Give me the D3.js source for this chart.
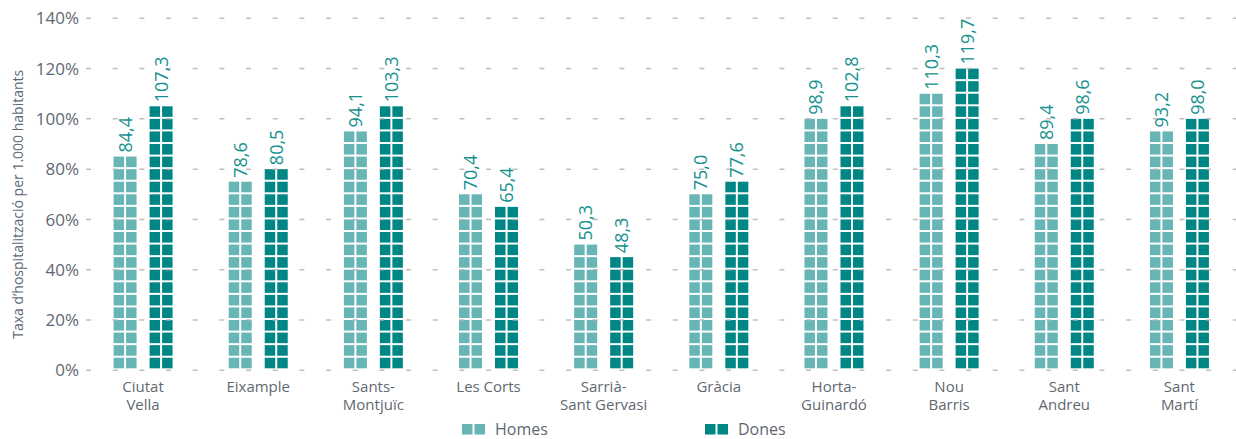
<!DOCTYPE html>
<html>
<head>
<meta charset="utf-8">
<script src="https://cdn.jsdelivr.net/npm/d3@7"></script>
<style>
  body { margin: 0; background: #fff; }
  svg text { font-family: "Open Sans", "Segoe UI", sans-serif; }
</style>
</head>
<body>
<div id="chart"></div>
<script>
// districts (label lines)
const districts = [
  ["Ciutat", "Vella"], ["Eixample"], ["Sants-", "Montjuïc"], ["Les Corts"],
  ["Sarrià-", "Sant Gervasi"], ["Gràcia"], ["Horta-", "Guinardó"],
  ["Nou", "Barris"], ["Sant", "Andreu"], ["Sant", "Martí"]
]
// labelled values
const homes = [84.4, 78.6, 94.1, 70.4, 50.3, 75.0, 98.9, 110.3, 89.4, 93.2]
const dones = [107.3, 80.5, 103.3, 65.4, 48.3, 77.6, 102.8, 119.7, 98.6, 98.0]
// height shown by the block stacks (each block = 5%)
const homesShown = [85, 75, 95, 70, 50, 70, 100, 110, 90, 95]
const donesShown = [105, 80, 105, 65, 45, 75, 105, 120, 100, 100]
const yTicks = [0, 20, 40, 60, 80, 100, 120, 140]
const seriesNames = ["Homes", "Dones"]

const W = 1236, H = 439
const colors = {Homes: "#67b6b5", Dones: "#008685"}
const textGrey = "#5f6872"
const labelColor = "#15918f"

const svg = d3.select("#chart").append("svg")
  .attr("width", W).attr("height", H)

const x = d3.scaleBand()
  .domain(d3.range(districts.length))
  .range([85.5, 1237])

const y = d3.scaleLinear()
  .domain([0, 140])
  .range([370.3, 18.3])

const barW = 23, offset = 18, step = 5

// y axis labels
svg.append("g").selectAll("text")
  .data(yTicks)
  .enter().append("text")
  .attr("x", 79)
  .attr("y", d => y(d))
  .attr("dy", "0.36em")
  .attr("text-anchor", "end")
  .attr("font-size", 17)
  .attr("fill", textGrey)
  .text(d => d + "%")

svg.append("text")
  .attr("transform", `translate(23,${(y(0) + y(140)) / 2 + 10}) rotate(-90)`)
  .attr("text-anchor", "middle")
  .attr("font-size", 14)
  .attr("fill", textGrey)
  .text("Taxa d’hospitalització per 1.000 habitants")

// block stacks
const series = [
  {name: "Homes", shown: homesShown, vals: homes, dx: -offset},
  {name: "Dones", shown: donesShown, vals: dones, dx: offset}
]

const bars = svg.append("g")
series.forEach(s => {
  s.shown.forEach((v, i) => {
    const cx = x(i) + x.bandwidth() / 2 + s.dx
    const n = Math.round(v / step)
    for (let k = 0; k < n; k++) {
      const top = y((k + 1) * step), bot = y(k * step)
      for (let c = 0; c < 2; c++) {
        bars.append("rect")
          .attr("x", cx - barW / 2 + c * (barW / 2 + 1))
          .attr("y", top)
          .attr("width", barW / 2 - 1)
          .attr("height", bot - top - 2)
          .attr("fill", colors[s.name])
      }
    }
  })
})

// dashed grid lines on top of the bars
svg.append("g").selectAll("line")
  .data(yTicks)
  .enter().append("line")
  .attr("x1", 86).attr("x2", 1236)
  .attr("y1", d => y(d)).attr("y2", d => y(d))
  .attr("stroke", "#b4b4b4")
  .attr("stroke-opacity", 0.85)
  .attr("stroke-width", 1.5)
  .attr("stroke-dasharray", "5,21.67")

// value labels
series.forEach(s => {
  svg.append("g").selectAll("text")
    .data(s.vals)
    .enter().append("text")
    .attr("transform", (d, i) => {
      const cx = x(i) + x.bandwidth() / 2 + s.dx
      return `translate(${cx},${y(s.shown[i]) - 4}) rotate(-90)`
    })
    .attr("dy", "0.36em")
    .attr("font-size", 18)
    .attr("fill", labelColor)
    .text(d => d.toFixed(1).replace(".", ","))
})

// category labels
const cats = svg.append("g")
districts.forEach((lines, i) => {
  const t = cats.append("text")
    .attr("x", x(i) + x.bandwidth() / 2)
    .attr("y", 392)
    .attr("text-anchor", "middle")
    .attr("font-size", 15)
    .attr("fill", textGrey)
  lines.forEach((l, j) => {
    t.append("tspan")
      .attr("x", x(i) + x.bandwidth() / 2)
      .attr("dy", j === 0 ? 0 : 18)
      .text(l)
  })
})

// legend
const legendX = [462, 705]
const legend = svg.append("g")
seriesNames.forEach((name, i) => {
  const g = legend.append("g").attr("transform", `translate(${legendX[i]},424)`)
  g.append("rect").attr("x", 0).attr("y", 0).attr("width", 10.5).attr("height", 10.5).attr("fill", colors[name])
  g.append("rect").attr("x", 12.5).attr("y", 0).attr("width", 10.5).attr("height", 10.5).attr("fill", colors[name])
  g.append("text")
    .attr("x", 33)
    .attr("y", 11)
    .attr("font-size", 16)
    .attr("fill", textGrey)
    .text(name)
})
</script>
</body>
</html>
